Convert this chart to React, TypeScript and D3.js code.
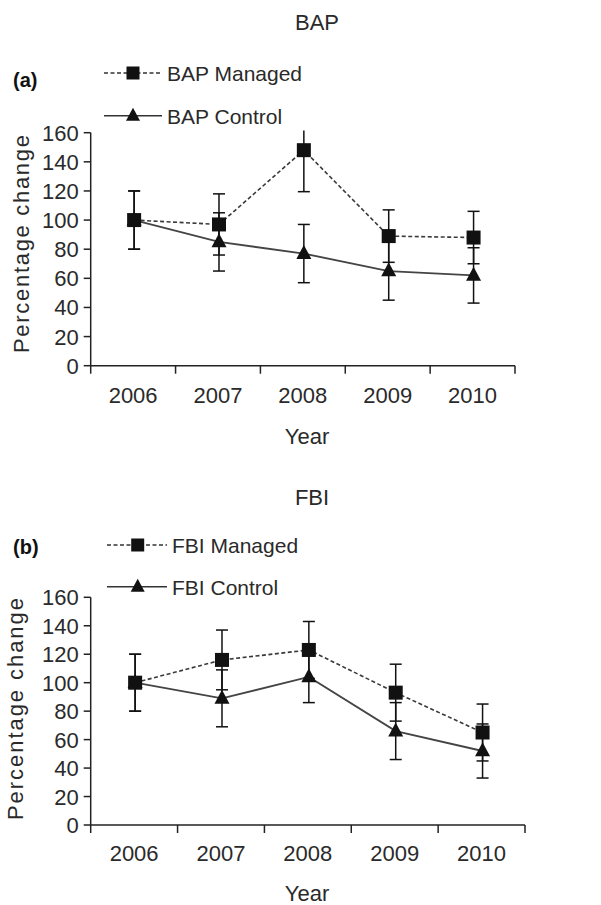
import React from "react";
import * as d3 from "d3";

const years = ["2006", "2007", "2008", "2009", "2010"];
const yTicks = [0, 20, 40, 60, 80, 100, 120, 140, 160];

const bapManaged = [100, 97, 148, 89, 88];
const bapManagedErr = [20, 21, 28.5, 18, 18];
const bapControl = [100, 85, 77, 65, 62];
const bapControlErr = [20, 20, 20, 20, 19];

const fbiManaged = [100, 116, 123, 93, 65];
const fbiManagedErr = [20, 21, 20, 20, 20];
const fbiControl = [100, 89, 104, 66, 52];
const fbiControlErr = [20, 20, 18, 20, 19];

const FONT = "'Liberation Sans', Arial, sans-serif";
const TXT = "#2a2a2a";

type PanelProps = {
  title: string;
  letter: string;
  names: [string, string];
  managed: number[];
  managedErr: number[];
  control: number[];
  controlErr: number[];
  L: any;
};

function Panel({ title, letter, names, managed, managedErr, control, controlErr, L }: PanelProps) {
  const x = d3.scaleBand<string>().domain(years).range([L.x0, L.x1]);
  const y = d3.scaleLinear().domain([0, 160]).range([L.yb, L.yt]);
  const cx = (d: string) => (x(d) as number) + x.bandwidth() / 2 + 1;
  const yClip = y(161.5);
  const line = d3
    .line<number>()
    .x((_, i) => cx(years[i]))
    .y((v) => y(v));
  const sq = 14;
  const tri = (px: number, py: number, w = 15, h = 14) =>
    `M${px},${py - h * 0.62} L${px + w / 2},${py + h * 0.38} L${px - w / 2},${py + h * 0.38} Z`;
  const errBars = (vals: number[], errs: number[], key: string) =>
    vals.map((v, i) => {
      const px = cx(years[i]);
      const topVal = v + errs[i];
      const top = Math.max(y(topVal), yClip);
      const bot = y(v - errs[i]);
      const capped = y(topVal) >= yClip;
      return (
        <g key={key + i} stroke="#111" strokeWidth={1.5}>
          <line x1={px} x2={px} y1={top} y2={bot} />
          {capped && <line x1={px - 6} x2={px + 6} y1={top} y2={top} />}
          <line x1={px - 6} x2={px + 6} y1={bot} y2={bot} />
        </g>
      );
    });
  const xTickPos = [...years.map((d) => x(d) as number), L.x1];
  return (
    <g fontFamily={FONT} fill={TXT}>
      <text x={L.titleX} y={L.titleY} fontSize={22} textAnchor="middle">{title}</text>
      <text x={13} y={L.letterY} fontSize={20} fontWeight="bold" fill="#111">{letter}</text>
      {/* legend */}
      <line x1={L.lx0} x2={L.lx1} y1={L.ly1} y2={L.ly1} stroke="#333" strokeWidth={1.5} strokeDasharray="4,2.5" />
      <rect x={L.lm - 6.5} y={L.ly1 - 6.5} width={13} height={13} fill="#111" />
      <text x={L.lt} y={L.ly1 + 8} fontSize={21}>{names[0]}</text>
      <line x1={L.lx0} x2={L.lx1} y1={L.ly2} y2={L.ly2} stroke="#333" strokeWidth={1.5} />
      <path d={tri(L.lm, L.ly2, 14, 13)} fill="#111" />
      <text x={L.lt} y={L.ly2 + 8} fontSize={21}>{names[1]}</text>
      {/* axes */}
      <g stroke="#222" strokeWidth={1.5} fill="none">
        <line x1={L.x0} x2={L.x0} y1={y(0)} y2={y(160)} />
        <line x1={L.x0} x2={L.x1} y1={y(0)} y2={y(0)} />
        {yTicks.map((t) => (
          <line key={"yt" + t} x1={L.x0 - 7} x2={L.x0} y1={y(t)} y2={y(t)} />
        ))}
        {xTickPos.map((p, i) => (
          <line key={"xt" + i} x1={p} x2={p} y1={y(0)} y2={y(0) + 8} />
        ))}
      </g>
      {yTicks.map((t) => (
        <text key={"yl" + t} x={L.x0 - 12} y={y(t) + 8} fontSize={22} textAnchor="end">{t}</text>
      ))}
      {years.map((d) => (
        <text key={"xl" + d} x={cx(d) - 1} y={L.xlabY} fontSize={22} textAnchor="middle">{d}</text>
      ))}
      <text x={L.yearX} y={L.yearY} fontSize={22} textAnchor="middle">Year</text>
      <text
        transform={`translate(${L.ylabX},${L.ylabY}) rotate(-90)`}
        fontSize={22}
        textAnchor="middle"
        textLength={L.ylabLen}
        lengthAdjust="spacing"
      >
        Percentage change
      </text>
      {/* series */}
      {errBars(control, controlErr, "ce")}
      {errBars(managed, managedErr, "me")}
      <path d={line(control) as string} fill="none" stroke="#444" strokeWidth={1.8} />
      <path d={line(managed) as string} fill="none" stroke="#3a3a3a" strokeWidth={1.6} strokeDasharray="4,2.5" />
      {control.map((v, i) => (
        <path key={"ct" + i} d={tri(cx(years[i]), y(v))} fill="#111" />
      ))}
      {managed.map((v, i) => (
        <rect key={"ms" + i} x={cx(years[i]) - sq / 2} y={y(v) - sq / 2} width={sq} height={sq} fill="#111" />
      ))}
    </g>
  );
}

const topLayout = {
  x0: 90.7, x1: 515, yt: 132.7, yb: 365.7,
  titleX: 317, titleY: 29.5, letterY: 87,
  lx0: 104, lx1: 162, lm: 133, lt: 167, ly1: 73, ly2: 115.7,
  xlabY: 403, yearX: 307, yearY: 444,
  ylabX: 29, ylabY: 244, ylabLen: 218,
};
const botLayout = {
  x0: 90.7, x1: 525, yt: 597.3, yb: 825,
  titleX: 312, titleY: 504.5, letterY: 554,
  lx0: 107, lx1: 167, lm: 137.7, lt: 172, ly1: 545, ly2: 586.7,
  xlabY: 861, yearX: 307, yearY: 901,
  ylabX: 23, ylabY: 709, ylabLen: 222,
};

export default function App() {
  return (
    <svg
      width={601}
      height={905}
      viewBox="0 0 601 905"
      style={{ position: "absolute", left: 0, top: 0, background: "#fff" }}
    >
      <rect x={0} y={0} width={601} height={905} fill="#fff" />
      <Panel
        title="BAP"
        letter="(a)"
        names={["BAP Managed", "BAP Control"]}
        managed={bapManaged}
        managedErr={bapManagedErr}
        control={bapControl}
        controlErr={bapControlErr}
        L={topLayout}
      />
      <Panel
        title="FBI"
        letter="(b)"
        names={["FBI Managed", "FBI Control"]}
        managed={fbiManaged}
        managedErr={fbiManagedErr}
        control={fbiControl}
        controlErr={fbiControlErr}
        L={botLayout}
      />
    </svg>
  );
}
